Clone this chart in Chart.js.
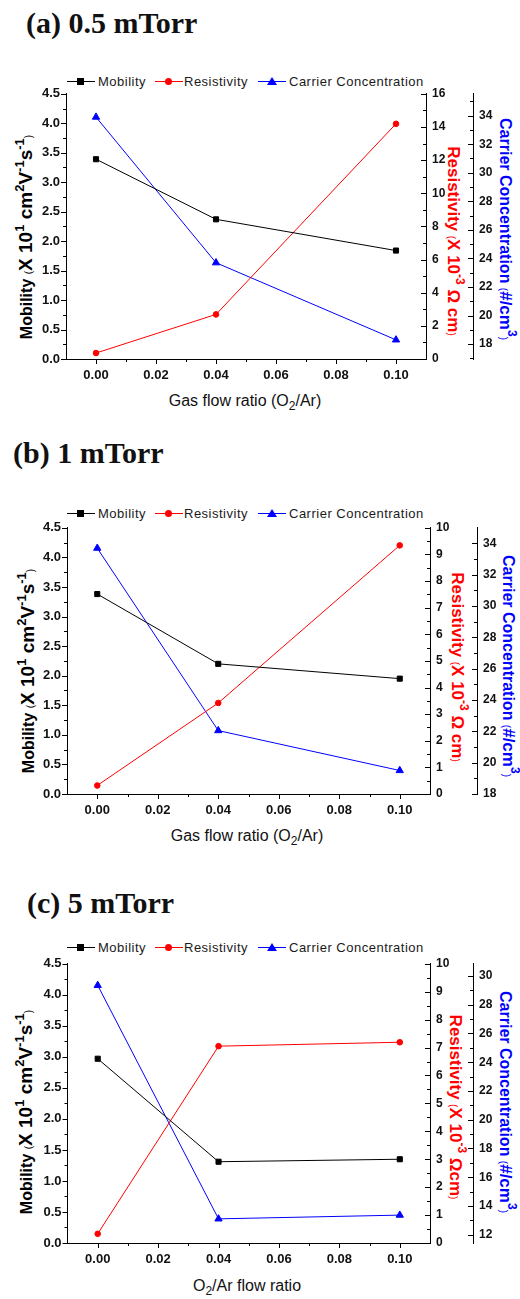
<!DOCTYPE html>
<html>
<head>
<meta charset="utf-8">
<script src="https://cdn.jsdelivr.net/npm/chart.js@4.4.1/dist/chart.umd.min.js"></script>
<style>
  body { margin: 0; background: #fff; }
  #page { position: relative; width: 520px; height: 1299px; overflow: hidden; font-family: "Liberation Sans", Arial, sans-serif; color: #000; }
  .ptitle { position: absolute; font-family: "Liberation Serif", "Times New Roman", serif; font-weight: bold; font-size: 30px; line-height: 1; white-space: nowrap; color: #111; }
  canvas { position: absolute; left: 0; }
  .rot { position: absolute; white-space: nowrap; line-height: 1; font-weight: bold; font-size: 16px; }
  .rot.l { transform: translate(-50%, -50%) rotate(-90deg); color: #000; }
  .rot.r { transform: translate(-50%, -50%) rotate(90deg); }
  .rot sup { font-size: 12px; vertical-align: 8px; line-height: 0; }
  .rot .big { font-size: 17px; }
  .rot.l .big { font-size: 19px; }
  .rot.l sup { font-size: 13px; }
  .rot.r .rs { font-size: 17px; }
  .rot .par { font-size: 10px; font-weight: normal; }
  .xt { position: absolute; transform: translate(-50%, -50%); white-space: nowrap; font-size: 16px; line-height: 1; color: #111; }
  .xt sub { font-size: 12px; vertical-align: -4px; line-height: 0; }
  .leg { position: absolute; height: 14px; transform: translateY(-50%); }
  .leg .ln { position: absolute; top: 7px; width: 28px; height: 1px; left: 0; }
  .leg .mk { position: absolute; }
  .legtxt { position: absolute; transform: translateY(-50%); font-size: 13px; letter-spacing: 0.5px; line-height: 1; white-space: nowrap; color: #1a1a1a; }
</style>
</head>
<body>
<div id="page"></div>
<script>
// ---------------- DATA ----------------
const seriesNames = ['Mobility', 'Resistivity', 'Carrier Concentration'];
const gasFlowRatio = [0.00, 0.04, 0.10];

const xTickLabels = ['0.00', '0.02', '0.04', '0.06', '0.08', '0.10'];
const mobilityTickLabels = ['0.0', '0.5', '1.0', '1.5', '2.0', '2.5', '3.0', '3.5', '4.0', '4.5'];

// (a) 0.5 mTorr
const mobilityA = [3.39, 2.37, 1.84];
const resistivityA = [0.36, 2.69, 14.19];
const carrierA = [33.9, 23.7, 18.3];
const resistivityTicksA = ['0', '2', '4', '6', '8', '10', '12', '14', '16'];
const carrierTicksA = ['18', '20', '22', '24', '26', '28', '30', '32', '34'];

// (b) 1 mTorr
const mobilityB = [3.38, 2.20, 1.95];
const resistivityB = [0.32, 3.42, 9.34];
const carrierB = [33.7, 22.05, 19.5];
const resistivityTicksB = ['0', '1', '2', '3', '4', '5', '6', '7', '8', '9', '10'];
const carrierTicksB = ['18', '20', '22', '24', '26', '28', '30', '32', '34'];

// (c) 5 mTorr
const mobilityC = [2.97, 1.31, 1.35];
const resistivityC = [0.33, 7.05, 7.19];
const carrierC = [29.35, 13.1, 13.36];
const resistivityTicksC = ['0', '1', '2', '3', '4', '5', '6', '7', '8', '9', '10'];
const carrierTicksC = ['12', '14', '16', '18', '20', '22', '24', '26', '28', '30'];

const panelTitles = ['(a) 0.5 mTorr', '(b) 1 mTorr', '(c) 5 mTorr'];

// ---------------- LAYOUT (positions only) ----------------
const panels = [
  { title: panelTitles[0], titleX: 26, titleY: 8,
    mob: mobilityA, res: resistivityA, car: carrierA, resTicks: resistivityTicksA, carTicks: carrierTicksA,
    resMax: 16, carMin: 16.96, carMax: 35.53,
    top: 92, bottom: 359, left: 66, right: 426, cX: 473, legY: 81,
    lTitle: [25, 237], rTitle: [453, 241], cTitle: [505, 229], xTitle: [245, 401],
    xTitleHtml: 'Gas flow ratio (O<sub>2</sub>/Ar)', ohm: '&Omega; cm' },
  { title: panelTitles[1], titleX: 13, titleY: 438,
    mob: mobilityB, res: resistivityB, car: carrierB, resTicks: resistivityTicksB, carTicks: carrierTicksB,
    resMax: 10, carMin: 18, carMax: 35,
    top: 526, bottom: 794, left: 67, right: 430, cX: 477, legY: 513,
    lTitle: [27, 671], rTitle: [457, 667], cTitle: [508, 666], xTitle: [247, 836],
    xTitleHtml: 'Gas flow ratio (O<sub>2</sub>/Ar)', ohm: '&Omega; cm' },
  { title: panelTitles[2], titleX: 27, titleY: 888,
    mob: mobilityC, res: resistivityC, car: carrierC, resTicks: resistivityTicksC, carTicks: carrierTicksC,
    resMax: 10, carMin: 11.42, carMax: 30.85,
    top: 962, bottom: 1243, left: 67.5, right: 430, cX: 473, legY: 947,
    lTitle: [25, 1112], rTitle: [455, 1107], cTitle: [505, 1102], xTitle: [247, 1286],
    xTitleHtml: 'O<sub>2</sub>/Ar flow ratio', ohm: '&Omega;cm' }
];

const COLORS = ['#000000', '#ff0000', '#0000ff'];
const PAD_TOP = 12, X_H = 30;

// tick mark plugin (major + minor) drawn through the chart's scales
const tickMarks = {
  id: 'tickMarks',
  afterDraw(chart, args, opts) {
    if (!opts || !opts.xt) return;
    const ctx = chart.ctx, a = chart.chartArea;
    const s = chart.scales;
    ctx.save();
    ctx.strokeStyle = '#000';
    ctx.lineWidth = 1;
    const seg = (x1, y1, x2, y2) => { ctx.beginPath(); ctx.moveTo(x1, y1); ctx.lineTo(x2, y2); ctx.stroke(); };
    const withMinor = (vals, sc) => {
      const out = vals.map(v => [v, 5]);
      const st = vals[1] - vals[0];
      for (let v = vals[0] - st / 2; v <= sc.max + 1e-9; v += st) {
        if (v > sc.min + 1e-9 && v < sc.max - 1e-9) out.push([v, 3]);
      }
      return out;
    };
    const px = v => Math.round(v) + 0.5;
    withMinor(opts.xt, s.x).forEach(([v, l]) => { const x = px(s.x.getPixelForValue(v)); seg(x, a.bottom, x, a.bottom + l); });
    withMinor(opts.mt, s.yM).forEach(([v, l]) => { const y = px(s.yM.getPixelForValue(v)); seg(s.yM.right, y, s.yM.right - l, y); });
    withMinor(opts.rt, s.yR).forEach(([v, l]) => { const y = px(s.yR.getPixelForValue(v)); seg(s.yR.left, y, s.yR.left - l, y); });
    withMinor(opts.ct, s.yC).forEach(([v, l]) => { const y = px(s.yC.getPixelForValue(v)); seg(s.yC.left, y, s.yC.left - l, y); });
    ctx.restore();
  }
};

const page = document.getElementById('page');
function addHTML(html) { page.insertAdjacentHTML('beforeend', html); }

function markerHTML(i) {
  if (i === 0) return '<div class="mk" style="left:10px;top:4px;width:7px;height:7px;background:#000"></div>';
  if (i === 1) return '<div class="mk" style="left:10px;top:4px;width:7px;height:7px;border-radius:50%;background:#f00"></div>';
  return '<div class="mk" style="left:9px;top:3px;width:0;height:0;border-left:5px solid transparent;border-right:5px solid transparent;border-bottom:8px solid #00f"></div>';
}

const legSampleX = [67, 155, 258];
const legTextX = [98, 184, 289];

panels.forEach((p) => {
  addHTML(`<div class="ptitle" style="left:${p.titleX}px;top:${p.titleY}px">${p.title}</div>`);

  seriesNames.forEach((n, i) => {
    addHTML(`<div class="leg" style="left:${legSampleX[i]}px;top:${p.legY}px;width:28px"><div class="ln" style="background:${COLORS[i]}"></div>${markerHTML(i)}</div>`);
    addHTML(`<div class="legtxt" style="left:${legTextX[i]}px;top:${p.legY}px">${n}</div>`);
  });

  addHTML(`<div class="rot l" style="left:${p.lTitle[0]}px;top:${p.lTitle[1]}px">Mobility <span class="par">(</span><span class="big">X 10<sup>1</sup> cm<sup>2</sup>V<sup>-1</sup>s<sup>-1</sup></span><span class="par">)</span></div>`);
  addHTML(`<div class="rot r" style="left:${p.rTitle[0]}px;top:${p.rTitle[1]}px;color:#ff0000"><span class="rs">Resistivity</span> <span class="par">(</span><span class="big">X 10<sup>-3</sup> ${p.ohm}</span><span class="par">)</span></div>`);
  addHTML(`<div class="rot r" style="left:${p.cTitle[0]}px;top:${p.cTitle[1]}px;color:#0000ff">Carrier Concentration <span class="par">(</span><span class="big">#/cm<sup>3</sup></span><span class="par">)</span></div>`);
  addHTML(`<div class="xt" style="left:${p.xTitle[0]}px;top:${p.xTitle[1]}px">${p.xTitleHtml}</div>`);

  const cvTop = p.top - PAD_TOP;
  const cvH = (p.bottom - p.top) + PAD_TOP + X_H;
  const cv = document.createElement('canvas');
  cv.width = 520; cv.height = cvH;
  cv.style.top = cvTop + 'px';
  cv.style.width = '520px'; cv.style.height = cvH + 'px';
  page.appendChild(cv);

  const xt = xTickLabels.map(Number);
  const mt = mobilityTickLabels.map(Number);
  const rt = p.resTicks.map(Number);
  const ct = p.carTicks.map(Number);

  const pts = arr => gasFlowRatio.map((x, i) => ({ x: x, y: arr[i] }));
  const ds = (label, arr, axis, color, style, r) => ({
    label, data: pts(arr), yAxisID: axis, borderColor: color, backgroundColor: color,
    pointBackgroundColor: color, pointBorderColor: color, pointStyle: style, pointRadius: r, pointBorderWidth: 1,
    borderWidth: 1, tension: 0, clip: false
  });
  const tickFont = { family: '"Liberation Sans", Arial, sans-serif', weight: 'bold', size: 13 };
  const tickFontR = { family: '"Liberation Sans", Arial, sans-serif', weight: 'bold', size: 12 };
  const setTicks = vals => s => { s.ticks = vals.map(v => ({ value: v })); };
  const common = {
    grid: { drawOnChartArea: false, drawTicks: false },
    border: { display: true, color: '#000', width: 1 },
  };

  new Chart(cv, {
    type: 'line',
    data: {
      datasets: [
        ds(seriesNames[0], p.mob, 'yM', COLORS[0], 'rect', 3.6),
        ds(seriesNames[1], p.res, 'yR', COLORS[1], 'circle', 2.8),
        ds(seriesNames[2], p.car, 'yC', COLORS[2], 'triangle', 4.2)
      ]
    },
    options: {
      responsive: false, animation: false, maintainAspectRatio: false,
      devicePixelRatio: 1,
      layout: { padding: { top: PAD_TOP, left: 0, right: 0, bottom: 0 } },
      plugins: {
        legend: { display: false }, tooltip: { enabled: false }, title: { display: false },
        tickMarks: { xt: xt, mt: mt, rt: rt, ct: ct }
      },
      scales: {
        x: Object.assign({}, common, {
          type: 'linear', position: 'bottom', min: -0.01, max: 0.11,
          afterBuildTicks: setTicks(xt),
          afterFit: s => { s.height = X_H; },
          ticks: { font: tickFont, color: '#111', padding: 9, maxRotation: 0, autoSkip: false,
                   callback: (v, i) => xTickLabels[i] }
        }),
        yM: Object.assign({}, common, {
          type: 'linear', position: 'left', min: 0, max: 4.5, weight: 0,
          afterBuildTicks: setTicks(mt),
          afterFit: s => { s.width = p.left; },
          ticks: { font: tickFont, color: '#111', padding: 6, autoSkip: false,
                   callback: (v, i) => mobilityTickLabels[i] }
        }),
        yR: Object.assign({}, common, {
          type: 'linear', position: 'right', min: 0, max: p.resMax, weight: 0,
          afterBuildTicks: setTicks(rt),
          afterFit: s => { s.width = p.cX - p.right; },
          ticks: { font: tickFontR, color: '#111', padding: 6, autoSkip: false,
                   callback: (v, i) => p.resTicks[i] }
        }),
        yC: Object.assign({}, common, {
          type: 'linear', position: 'right', min: p.carMin, max: p.carMax, weight: 1,
          afterBuildTicks: setTicks(ct),
          afterFit: s => { s.width = 520 - p.cX; },
          ticks: { font: tickFontR, color: '#111', padding: 6, autoSkip: false,
                   callback: (v, i) => p.carTicks[i] }
        })
      }
    },
    plugins: [tickMarks]
  });
});
</script>
</body>
</html>
